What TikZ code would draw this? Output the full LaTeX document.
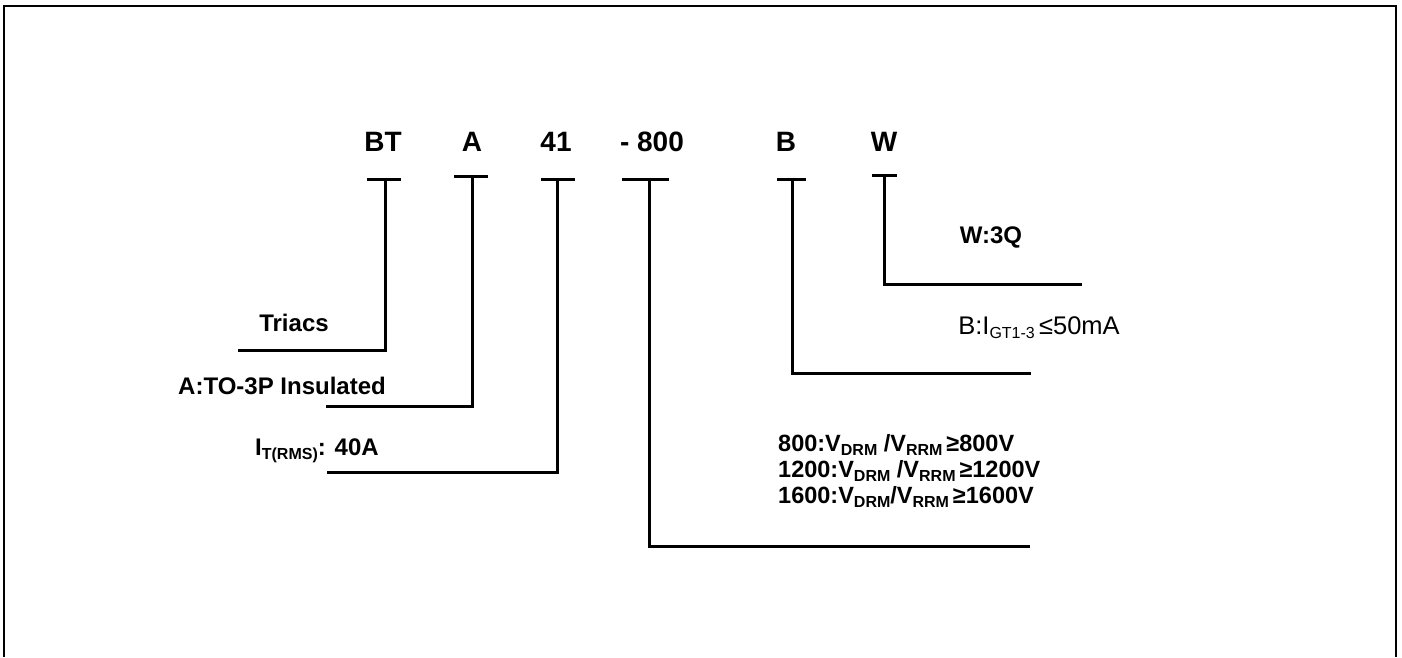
\documentclass[tikz,border=0pt]{standalone}
\usepackage{fontspec}
\setmainfont{Liberation Sans}
\newcommand\dnsub[2]{\raisebox{-0.35ex}{\fontsize{#1}{#1}\selectfont #2}}
\begin{document}
\begin{tikzpicture}[x=1pt,y=-1pt,
  hdr/.style={font=\fontsize{28}{30}\selectfont\bfseries, inner sep=0pt, anchor=base},
  lbl/.style={font=\fontsize{24}{26}\selectfont\bfseries, inner sep=0pt, anchor=base},
  lblw/.style={font=\fontsize{23.5}{26}\selectfont\bfseries, inner sep=0pt, anchor=base west},
  reg/.style={font=\fontsize{25.5}{28}\selectfont, inner sep=0pt, anchor=base},
  wire/.style={line width=3pt},
  bar/.style={line width=3pt},
  frame/.style={line width=2.8pt}]
\useasboundingbox (0,0) rectangle (1402,657);
% frame (open at the bottom)
\coordinate (fbl) at (4,657);
\coordinate (ftl) at (4,6);
\coordinate (ftr) at (1396,6);
\coordinate (fbr) at (1396,657);
\draw[frame] (fbl) -- (ftl) -- (ftr) -- (fbr);

% header
\node[hdr] (bt)  at (383,151) {BT};
\node[hdr] (a)   at (472,151) {A};
\node[hdr] (n41) at (556,151) {41};
\node[hdr] (v800) at (652,151) {- 800};
\node[hdr] (b)   at (786,151) {B};
\node[hdr] (w)   at (884,151) {W};

% labels
\node[lbl] (triacs) at (294,331) {Triacs};
\node[lbl] (pkg) at (282,394) {A:TO-3P Insulated};
\node[lbl] (itrms) at (317,455) {I\dnsub{16}{T(RMS)}: 40A};
\node[lbl] (w3q) at (991,243) {W:3Q};
\node[reg] (igt) at (1039,334) {B:I\dnsub{16}{GT1-3}\,≤50mA};
\node[lblw] (v1) at (778,451) {800:V\dnsub{16}{DRM} /V\dnsub{16}{RRM}\,≥800V};
\node[lblw] (v2) at (778,477) {1200:V\dnsub{16}{DRM} /V\dnsub{16}{RRM}\,≥1200V};
\node[lblw] (v3) at (778,503) {1600:V\dnsub{16}{DRM}/V\dnsub{16}{RRM}\,≥1600V};

% BT
\coordinate (btl) at (367,179); \coordinate (btr) at (401,179);
\coordinate (btt) at (385,179); \coordinate (btc) at (385,350); \coordinate (bte) at (238,350);
\draw[bar] (btl) -- (btr);
\draw[wire] (btt) -- (btc) -- (bte);
% A
\coordinate (al) at (454,176); \coordinate (ar) at (488,176);
\coordinate (at) at (472,176); \coordinate (ac) at (472,406); \coordinate (ae) at (326,406);
\draw[bar] (al) -- (ar);
\draw[wire] (at) -- (ac) -- (ae);
% 41
\coordinate (fl) at (541,179); \coordinate (fr) at (575,179);
\coordinate (ft) at (557,179); \coordinate (fc) at (557,472); \coordinate (fe) at (327,472);
\draw[bar] (fl) -- (fr);
\draw[wire] (ft) -- (fc) -- (fe);
% 800
\coordinate (vl) at (622,179); \coordinate (vr) at (669,179);
\coordinate (vt) at (649,179); \coordinate (vc) at (649,546); \coordinate (ve) at (1030,546);
\draw[bar] (vl) -- (vr);
\draw[wire] (vt) -- (vc) -- (ve);
% B
\coordinate (bl) at (777,179); \coordinate (br) at (806,179);
\coordinate (bt0) at (792,179); \coordinate (bc) at (792,373); \coordinate (be) at (1031,373);
\draw[bar] (bl) -- (br);
\draw[wire] (bt0) -- (bc) -- (be);
% W
\coordinate (wl) at (872,175); \coordinate (wr) at (897,175);
\coordinate (wt) at (884,175); \coordinate (wc) at (884,284); \coordinate (we) at (1082,284);
\draw[bar] (wl) -- (wr);
\draw[wire] (wt) -- (wc) -- (we);
\end{tikzpicture}
\end{document}
